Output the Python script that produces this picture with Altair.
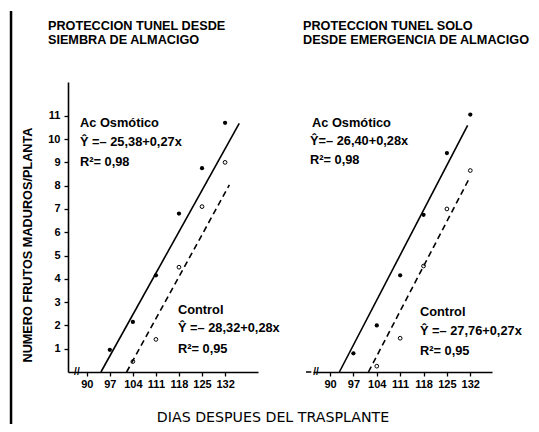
import altair as alt
import pandas as pd

# ---------------- data ----------------
days_ac = [97, 104, 111, 118, 125, 132]
days_ctrl = [104, 111, 118, 125, 132]
left_ac = [0.95, 2.15, 4.15, 6.8, 8.75, 10.7]
left_ctrl = [0.45, 1.4, 4.5, 7.1, 9.0]
right_ac = [0.8, 2.0, 4.15, 6.75, 9.4, 11.05]
right_ctrl = [0.25, 1.45, 4.55, 7.0, 8.65]

# regression lines as drawn (end points)
left_ac_fit_x = [94.3, 136.3]
left_ac_fit_y = [0.0, 10.67]
left_ctrl_fit_x = [102.1, 133.3]
left_ctrl_fit_y = [0.0, 8.03]
right_ac_fit_x = [92.8, 131.2]
right_ac_fit_y = [0.0, 10.59]
right_ctrl_fit_x = [101.5, 131.8]
right_ctrl_fit_y = [0.0, 8.34]

x_ticks = [90, 97, 104, 111, 118, 125, 132]
y_ticks = list(range(1, 12))

left_title = ["PROTECCION TUNEL DESDE", "SIEMBRA DE ALMACIGO"]
right_title = ["PROTECCION TUNEL SOLO", "DESDE EMERGENCIA DE ALMACIGO"]
left_notes = ["Ac Osmótico", "Ŷ =– 25,38+0,27x", "R²= 0,98",
              "Control", "Ŷ =– 28,32+0,28x", "R²= 0,95"]
right_notes = ["Ac Osmótico", "Ŷ=– 26,40+0,28x", "R²= 0,98",
               "Control", "Ŷ =– 27,76+0,27x", "R²= 0,95"]
y_title = "NUMERO FRUTOS MADUROS/PLANTA"
x_title = "DIAS DESPUES DEL TRASPLANTE"

FONT = "Liberation Sans"

# ---------------- scales / axes ----------------
ys = alt.Scale(domain=[0, 12.45], nice=False, zero=False)
xs_left = alt.Scale(domain=[84.3, 142.0], nice=False, zero=False)
xs_right = alt.Scale(domain=[84.9, 138.5], range=[245, 424], nice=False, zero=False)

ax_x = alt.Axis(values=x_ticks, orient="bottom", title=None, grid=False,
                tickSize=4, tickColor="black", tickWidth=1.3,
                domainColor="black", domainWidth=1.6,
                labelFont=FONT, labelFontSize=11, labelFontWeight="bold",
                labelColor="black", labelPadding=2, format="d",
                labelFlush=False, labelOverlap=False)
ax_y = alt.Axis(values=y_ticks, orient="left", title=None, grid=False,
                tickSize=4, tickColor="black", tickWidth=1.3,
                domainColor="black", domainWidth=1.6,
                labelFont=FONT, labelFontSize=11, labelFontWeight="bold",
                labelColor="black", labelPadding=4, format="d",
                labelFlush=False, labelOverlap=False)


def enc(chart, xs):
    return chart.encode(
        x=alt.X("x:Q", scale=xs, axis=ax_x),
        y=alt.Y("y:Q", scale=ys, axis=ax_y),
    )


def panel(xs, ac, ctrl, acfx, acfy, ctfx, ctfy, title, title_x,
          notes, notes_xy):
    pts_ac = pd.DataFrame({"x": days_ac, "y": ac})
    pts_ct = pd.DataFrame({"x": days_ctrl, "y": ctrl})
    fit_ac = pd.DataFrame({"x": acfx, "y": acfy})
    fit_ct = pd.DataFrame({"x": ctfx, "y": ctfy})
    tdf = pd.DataFrame({"x": [title_x, title_x], "y": [14.86, 14.24], "t": title})
    ndf = pd.DataFrame({"x": [p[0] for p in notes_xy],
                        "y": [p[1] for p in notes_xy], "t": notes})
    layers = [
        enc(alt.Chart(fit_ac).mark_line(color="black", strokeWidth=1.6), xs),
        enc(alt.Chart(fit_ct).mark_line(color="black", strokeWidth=1.6,
                                        strokeDash=[6, 4]), xs),
        enc(alt.Chart(pts_ac).mark_point(filled=True, color="black", size=18,
                                         opacity=1), xs),
        enc(alt.Chart(pts_ct).mark_point(filled=False, color="black", size=14,
                                         strokeWidth=1, opacity=1), xs),
        enc(alt.Chart(tdf).mark_text(align="left", baseline="middle", font=FONT,
                                     fontSize=12.7, fontWeight="bold",
                                     color="black"), xs).encode(text="t:N"),
        enc(alt.Chart(ndf).mark_text(align="left", baseline="middle", font=FONT,
                                     fontSize=12.8, fontWeight="bold",
                                     color="black"), xs).encode(text="t:N"),
    ]
    return layers


left_layers = panel(
    xs_left, left_ac, left_ctrl,
    left_ac_fit_x, left_ac_fit_y, left_ctrl_fit_x, left_ctrl_fit_y,
    left_title, 78.2, left_notes,
    [(87.94, 10.69), (87.94, 9.88), (87.94, 9.02),
     (117.7, 2.66), (117.7, 1.89), (117.7, 0.99)],
)
right_layers = panel(
    xs_right, right_ac, right_ctrl,
    right_ac_fit_x, right_ac_fit_y, right_ctrl_fit_x, right_ctrl_fit_y,
    right_title, 81.9, right_notes,
    [(84.6, 10.69), (84.0, 9.92), (84.0, 9.1),
     (116.94, 2.58), (116.94, 1.76), (116.94, 0.9)],
)

# axis titles and break marks
ytdf = pd.DataFrame({"x": [72.15], "y": [5.45], "t": [y_title]})
xtdf = pd.DataFrame({"x": [146.55], "y": [-1.97], "t": [x_title]})
brk_l = pd.DataFrame({"x": [87.0], "y": [0.0], "t": ["//"]})
brk_r = pd.DataFrame({"x": [85.8], "y": [0.0], "t": ["//"]})
dash_r = pd.DataFrame({"x": [82.8, 84.4], "y": [0.0, 0.0]})
# page frame: left edge
frame_left = pd.DataFrame({"x": [67.0, 67.0], "y": [-2.7, 15.5]})

left_layers += [
    enc(alt.Chart(ytdf).mark_text(angle=270, align="center", baseline="middle",
                                  font=FONT, fontSize=12.7, fontWeight="bold",
                                  color="black"), xs_left).encode(text="t:N"),
    enc(alt.Chart(xtdf).mark_text(align="center", baseline="middle",
                                  font="DejaVu Sans", fontSize=14.2,
                                  color="black"), xs_left).encode(text="t:N"),
    enc(alt.Chart(brk_l).mark_text(align="center", baseline="middle", font=FONT,
                                   fontSize=10, fontWeight="bold",
                                   color="black"), xs_left).encode(text="t:N"),
    enc(alt.Chart(frame_left).mark_line(color="black", strokeWidth=2.5), xs_left),
]
right_layers += [
    enc(alt.Chart(brk_r).mark_text(align="center", baseline="middle", font=FONT,
                                   fontSize=10, fontWeight="bold",
                                   color="black"), xs_right).encode(text="t:N"),
    enc(alt.Chart(dash_r).mark_line(color="black", strokeWidth=1.5), xs_right),
]

left = alt.layer(*left_layers)
right = alt.layer(*right_layers)

chart = (
    alt.layer(left, right)
    .resolve_scale(x="independent")
    .properties(
        width=190,
        height=290,
        padding={"left": 60, "top": 74, "right": 273, "bottom": 52},
        autosize=alt.AutoSizeParams(type="none"),
        background="white",
    )
    .configure_view(stroke=None)
)

chart.save("out.html", embed_options={"renderer": "svg", "actions": False})
